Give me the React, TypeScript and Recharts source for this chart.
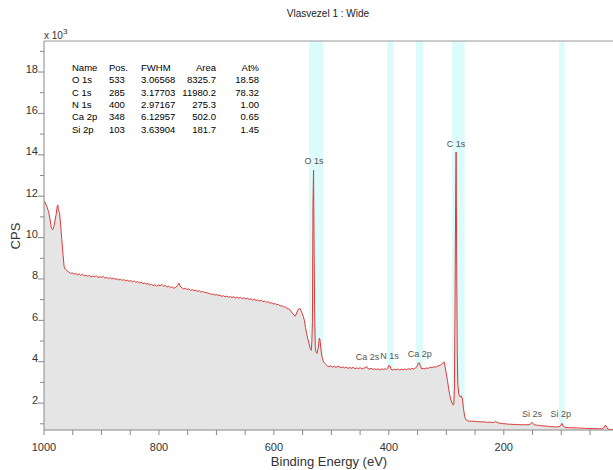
import React from 'react';
import {
  ComposedChart,
  Area,
  XAxis,
  YAxis,
  ReferenceArea,
  ReferenceLine,
  ReferenceDot,
} from 'recharts';

const FONT = '"Liberation Sans", Arial, sans-serif';

// binding energy (eV), counts (x 10^3 CPS)
const SPECTRUM: [number, number][] = [
  [1000, 11.75], [998, 11.7], [995, 11.5], [992, 11.25], [989, 10.8], [987, 10.45], [985, 10.38],
  [983, 10.52], [981, 10.8], [979, 11.1], [977, 11.5], [976, 11.58], [975, 11.35], [973, 11.2],
  [971, 10.6], [969, 9.9], [967, 9.2], [965, 8.6], [963, 8.48], [960, 8.4],
  [957, 8.34], [954, 8.27], [951, 8.3], [948, 8.23], [945, 8.27], [942, 8.2], [939, 8.25],
  [936, 8.17], [933, 8.23], [930, 8.15], [927, 8.19], [924, 8.13], [921, 8.17], [918, 8.09],
  [915, 8.14], [912, 8.11], [909, 8.15], [906, 8.07], [903, 8.11], [900, 8.08], [897, 8.12],
  [894, 8.04], [891, 8.08], [888, 8.02], [885, 8.06], [882, 8.0], [879, 8.04], [876, 7.98],
  [873, 8.01], [870, 7.95], [867, 7.99], [864, 7.93], [861, 7.97], [858, 7.91], [855, 7.94],
  [852, 7.89], [849, 7.92], [846, 7.87], [843, 7.9], [840, 7.84], [837, 7.87], [834, 7.81],
  [831, 7.84], [828, 7.78], [825, 7.81], [822, 7.75], [819, 7.78], [816, 7.71], [813, 7.74],
  [810, 7.68], [807, 7.72], [804, 7.65], [801, 7.71], [798, 7.67], [795, 7.73], [792, 7.65],
  [789, 7.69], [786, 7.61], [783, 7.65], [780, 7.58], [777, 7.62], [774, 7.55], [771, 7.59],
  [768, 7.67], [765, 7.8], [763, 7.65], [760, 7.57], [757, 7.51], [754, 7.55], [751, 7.49],
  [748, 7.52], [745, 7.45], [742, 7.49], [739, 7.43], [736, 7.46], [733, 7.4], [730, 7.43],
  [727, 7.37], [724, 7.4], [721, 7.34], [718, 7.35], [715, 7.31], [712, 7.3], [709, 7.25],
  [706, 7.28], [703, 7.22], [700, 7.25], [697, 7.2], [694, 7.22], [691, 7.16], [688, 7.19],
  [685, 7.14], [682, 7.17], [679, 7.12], [676, 7.15], [673, 7.1], [670, 7.14], [667, 7.08],
  [664, 7.13], [661, 7.07], [658, 7.11], [655, 7.05], [652, 7.09], [649, 7.03], [646, 7.07],
  [643, 7.01], [640, 7.04], [637, 6.98], [634, 7.02], [631, 6.96], [628, 6.99], [625, 6.93],
  [622, 6.97], [619, 6.91], [616, 6.93], [613, 6.87], [610, 6.9], [607, 6.83], [604, 6.85],
  [601, 6.79], [598, 6.81], [595, 6.75], [592, 6.77], [589, 6.69], [586, 6.71], [583, 6.65],
  [580, 6.65], [577, 6.57], [574, 6.55], [571, 6.47], [568, 6.35], [565, 6.25], [563, 6.2],
  [561, 6.3], [559, 6.45], [557, 6.55], [555, 6.58], [553, 6.48], [551, 6.35], [549, 6.2],
  [547, 6.0], [545, 5.65], [543, 5.35], [541, 5.1], [539, 4.9], [537, 4.65], [535, 4.55],
  [534, 4.95], [533, 5.9], [532, 11.6], [531, 13.26], [530, 9.25], [529, 6.2], [528, 4.7],
  [527, 4.5], [525, 4.4], [523, 4.65], [521, 5.14], [520, 5.1], [518, 4.55], [516, 4.2],
  [514, 4.02], [512, 3.93], [510, 3.88], [507, 3.8], [504, 3.76], [501, 3.8], [498, 3.74],
  [495, 3.78], [492, 3.72], [489, 3.78], [486, 3.76], [483, 3.71], [480, 3.75], [477, 3.7],
  [474, 3.74], [471, 3.68], [468, 3.72], [465, 3.68], [462, 3.73], [459, 3.66], [456, 3.7],
  [453, 3.67], [450, 3.71], [447, 3.65], [444, 3.69], [441, 3.7], [439, 3.77], [437, 3.68],
  [434, 3.64], [431, 3.68], [428, 3.63], [425, 3.66], [422, 3.62], [419, 3.66], [416, 3.61],
  [413, 3.65], [410, 3.63], [407, 3.66], [404, 3.63], [402, 3.68], [400, 3.82], [398, 3.79],
  [396, 3.63], [393, 3.6], [390, 3.64], [387, 3.61], [384, 3.65], [381, 3.6], [378, 3.64],
  [375, 3.61], [372, 3.65], [369, 3.62], [366, 3.66], [363, 3.63], [360, 3.68], [357, 3.64],
  [354, 3.7], [351, 3.76], [349, 3.92], [347, 3.95], [345, 3.78], [343, 3.66], [340, 3.68],
  [337, 3.65], [334, 3.7], [331, 3.68], [328, 3.74], [325, 3.71], [322, 3.76], [319, 3.73],
  [316, 3.78], [313, 3.8], [310, 3.84], [307, 3.9], [305, 3.97], [304, 4.0], [302, 3.75],
  [300, 3.4], [298, 3.1], [296, 2.7], [294, 2.4], [292, 2.15], [290, 2.0], [288, 1.9],
  [287, 1.95], [286, 2.6], [285, 6.0], [284, 11.0], [283, 14.13], [282, 9.0], [281, 4.6],
  [280, 2.9], [278, 2.4], [276, 2.3], [274, 2.35], [272, 2.2], [270, 1.7], [268, 1.34],
  [266, 1.2], [263, 1.15], [260, 1.13], [256, 1.12], [252, 1.13], [248, 1.1], [244, 1.11],
  [240, 1.09], [236, 1.1], [232, 1.08], [228, 1.07], [224, 1.08], [220, 1.06], [216, 1.07],
  [214, 1.12], [212, 1.07], [208, 1.03], [204, 1.02], [200, 1.0], [196, 1.0], [192, 0.98],
  [188, 0.98], [184, 0.97], [180, 0.97], [176, 0.96], [172, 0.96], [168, 0.95], [164, 0.96],
  [160, 0.95], [156, 0.96], [153, 1.0], [151, 1.07], [149, 1.0], [146, 0.95], [143, 0.93],
  [140, 0.93], [136, 0.91], [132, 0.9], [128, 0.89], [124, 0.88], [120, 0.86], [116, 0.86],
  [112, 0.85], [108, 0.85], [104, 0.86], [101, 0.9], [99, 1.02], [97, 0.9], [94, 0.83],
  [90, 0.82], [86, 0.81], [82, 0.81], [78, 0.8], [74, 0.8], [70, 0.8], [66, 0.79], [62, 0.79],
  [58, 0.78], [54, 0.78], [50, 0.77], [46, 0.77], [42, 0.77], [38, 0.76], [34, 0.76],
  [30, 0.76], [26, 0.8], [24, 0.9], [23, 0.94], [21, 0.84], [19, 0.75], [16, 0.73],
  [13, 0.72], [10, 0.72],
];

// quantification regions (eV)
const REGIONS = [
  { name: 'O 1s', from: 539, to: 514.5 },
  { name: 'N 1s', from: 403, to: 392.5 },
  { name: 'Ca 2p', from: 353, to: 340 },
  { name: 'C 1s', from: 290, to: 268 },
  { name: 'Si 2p', from: 104, to: 94 },
];

const PEAK_LABELS = [
  { text: 'O 1s', be: 530, cps: 13.7 },
  { text: 'C 1s', be: 283, cps: 14.52 },
  { text: 'Ca 2s', be: 437, cps: 4.24 },
  { text: 'N 1s', be: 399, cps: 4.3 },
  { text: 'Ca 2p', be: 346, cps: 4.37 },
  { text: 'Si 2s', be: 151, cps: 1.5 },
  { text: 'Si 2p', be: 101, cps: 1.5 },
];

const TABLE_HEAD = ['Name', 'Pos.', 'FWHM', 'Area', 'At%'];
const TABLE_NAME = ['O 1s', 'C 1s', 'N 1s', 'Ca 2p', 'Si 2p'];
const TABLE_POS = ['533', '285', '400', '348', '103'];
const TABLE_FWHM = ['3.06568', '3.17703', '2.97167', '6.12957', '3.63904'];
const TABLE_AREA = ['8325.7', '11980.2', '275.3', '502.0', '181.7'];
const TABLE_AT = ['18.58', '78.32', '1.00', '0.65', '1.45'];

const X_TICKS = [50, 100, 150, 200, 250, 300, 350, 400, 450, 500, 550, 600, 650, 700, 750, 800, 850, 900, 950, 1000];
const Y_TICKS = [1, 2, 3, 4, 5, 6, 7, 8, 9, 10, 11, 12, 13, 14, 15, 16, 17, 18, 19];

const X_DOMAIN: [number, number] = [10, 1000];
const Y_DOMAIN: [number, number] = [0.7, 19.5];

const data = SPECTRUM.map(([be, cps]) => ({ be, cps }));

function XTick({ x, y, payload }: any) {
  const v = payload.value;
  return (
    <g>
      <line x1={x} y1={y} x2={x} y2={y + 5} stroke="#888" />
      {v % 200 === 0 && (
        <text x={x} y={y + 21} textAnchor="middle" fontSize={11} fill="#333" fontFamily={FONT}>
          {v}
        </text>
      )}
    </g>
  );
}

function YTick({ x, y, payload }: any) {
  const v = payload.value;
  const major = v % 2 === 0;
  return (
    <g>
      <line x1={x - (major ? 6 : 4)} y1={y} x2={x} y2={y} stroke="#888" />
      {major && (
        <text x={x - 6} y={y + 0.5} textAnchor="end" fontSize={11} fill="#333" fontFamily={FONT}>
          {v}
        </text>
      )}
    </g>
  );
}

const COLS = [
  { x: 72, anchor: 'start' },
  { x: 109, anchor: 'start' },
  { x: 141, anchor: 'start' },
  { x: 216, anchor: 'end' },
  { x: 259, anchor: 'end' },
];

export default function App() {
  const rows = TABLE_NAME.map((n, i) => [n, TABLE_POS[i], TABLE_FWHM[i], TABLE_AREA[i], TABLE_AT[i]]);
  return (
    <div style={{ position: 'fixed', left: 0, top: 0, width: 613, height: 470, background: '#fff' }}>
      <ComposedChart width={613} height={470} data={data} margin={{ top: 41, right: 0, bottom: 0, left: 0 }}>
        <XAxis
          dataKey="be"
          type="number"
          domain={X_DOMAIN}
          reversed
          allowDataOverflow
          ticks={X_TICKS}
          interval={0}
          height={40}
          tickSize={0}
          tickMargin={0}
          tickLine={false}
          tick={<XTick />}
          axisLine={{ stroke: '#888' }}
        />
        <YAxis
          type="number"
          domain={Y_DOMAIN}
          allowDataOverflow
          ticks={Y_TICKS}
          interval={0}
          width={44}
          tickSize={0}
          tickMargin={0}
          tickLine={false}
          tick={<YTick />}
          axisLine={{ stroke: '#888' }}
        />
        {REGIONS.map((r) => (
          <ReferenceArea
            key={r.name}
            x1={r.from}
            x2={r.to}
            y1={Y_DOMAIN[0]}
            y2={Y_DOMAIN[1]}
            fill="#dcfcfc"
            fillOpacity={1}
            stroke="none"
            zIndex={-50}
          />
        ))}
        <Area
          type="linear"
          dataKey="cps"
          stroke="#e03838"
          strokeWidth={1}
          fill="#e5e5e5"
          fillOpacity={1}
          baseValue={Y_DOMAIN[0]}
          dot={false}
          activeDot={false}
          isAnimationActive={false}
        />
        <ReferenceLine y={Y_DOMAIN[1]} stroke="#999" ifOverflow="visible" />
        {PEAK_LABELS.map((p) => (
          <ReferenceDot
            key={p.text}
            x={p.be}
            y={p.cps}
            r={1}
            fill="none"
            stroke="none"
            ifOverflow="visible"
            label={{ value: p.text, position: 'center', fill: '#555', fontSize: 9, fontFamily: FONT }}
          />
        ))}
      </ComposedChart>
      <svg width={613} height={470} style={{ position: 'absolute', left: 0, top: 0, pointerEvents: 'none' }}>
        <text x={328} y={17} textAnchor="middle" fontSize={10} fill="#222" fontFamily={FONT}>
          Vlasvezel 1 : Wide
        </text>
        <text x={44} y={39} fontSize={10} fill="#333" fontFamily={FONT}>
          x 10
          <tspan fontSize={8} dy={-5}>3</tspan>
        </text>
        <text x={17} y={236} textAnchor="middle" fontSize={13} fill="#333" fontFamily={FONT} transform="rotate(-90 17 236)" dominantBaseline="middle">
          CPS
        </text>
        <text x={329} y={466} textAnchor="middle" fontSize={13} fill="#333" fontFamily={FONT}>
          Binding Energy (eV)
        </text>
        {[TABLE_HEAD, ...rows].map((row, ri) => (
          <g key={ri}>
            {row.map((cell, ci) => (
              <text
                key={ci}
                x={COLS[ci].x}
                y={71 + ri * 12.3}
                textAnchor={COLS[ci].anchor as any}
                fontSize={9.5}
                fill="#000"
                fontFamily={FONT}
              >
                {cell}
              </text>
            ))}
          </g>
        ))}
      </svg>
    </div>
  );
}
